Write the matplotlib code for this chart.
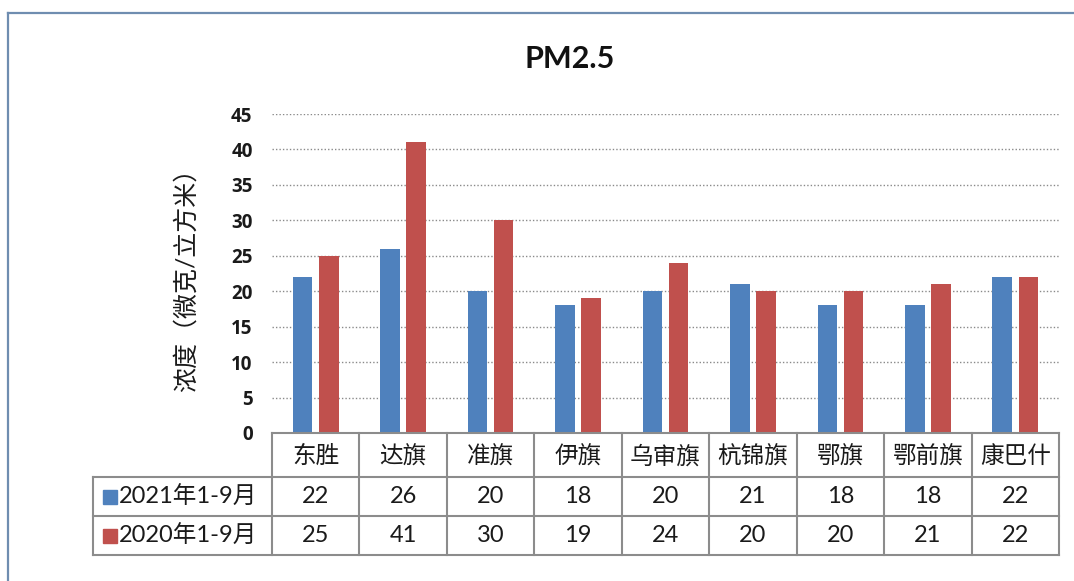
import matplotlib
matplotlib.use("Agg")
import matplotlib.pyplot as plt
from matplotlib.lines import Line2D

plt.rcParams['font.family'] = ['Lato', 'Noto Sans CJK SC', 'DejaVu Sans']

# data
cities = ['东胜', '达旗', '准旗', '伊旗', '乌审旗', '杭锦旗', '鄂旗', '鄂前旗', '康巴什']
series_names = ['2021年1-9月', '2020年1-9月']
pm_2021 = [22, 26, 20, 18, 20, 21, 18, 18, 22]
pm_2020 = [25, 41, 30, 19, 24, 20, 20, 21, 22]
yticks = list(range(0, 46, 5))
colors = ['#4F81BD', '#C0504D']

W, H = 1074, 581
fig = plt.figure(figsize=(W / 100, H / 100), dpi=100)
fig.patch.set_facecolor('white')

def fx(px):
    return px / W

def fy(py):
    return 1 - py / H

# frame of the chart area (only top and left visible in the crop)
fig.add_artist(Line2D([fx(8), 1.0], [fy(13), fy(13)], color='#6f8db0', lw=1.6))
fig.add_artist(Line2D([fx(8), fx(8)], [fy(13), 0.0], color='#6f8db0', lw=1.6))

# main plot
left, right, top, base = 272, 1059, 114, 433
ax = fig.add_axes([fx(left), fy(base), fx(right) - fx(left), (base - top) / H])
n = len(cities)
xs = range(n)
bw = 0.223
off = 0.149
ax.bar([x - off for x in xs], pm_2021, width=bw, color=colors[0], zorder=3)
ax.bar([x + off for x in xs], pm_2020, width=bw, color=colors[1], zorder=3)
ax.set_xlim(-0.5, n - 0.5)
ax.set_ylim(0, 45)
ax.set_yticks(yticks)
ax.set_yticklabels([str(v) for v in yticks], fontweight='bold', fontsize=13.5,
                   family='Open Sans', color='#1a1a1a')
ax.set_xticks([])
ax.tick_params(axis='y', length=0, pad=14)
for y in yticks[1:]:
    ax.axhline(y, color='#8a8a8a', lw=1.0, ls=(0, (1, 1.5)), zorder=1)
for s in ax.spines.values():
    s.set_visible(False)

ax.set_ylabel('浓度（微克/立方米）', fontsize=18, labelpad=24, color='#1a1a1a')

fig.text(fx(570), fy(59), 'PM2.5', fontsize=22, fontweight='bold',
         ha='center', va='center', color='#111111')

# data table below the plot
cat_w = (right - left) / n
tl = -0.5 - (left - 93) / cat_w
bottom_px = 555
tax = fig.add_axes([fx(93), fy(bottom_px), fx(right) - fx(93), (bottom_px - base) / H])
tax.set_xlim(tl, n - 0.5)
rows = [0, 44, 83, 122]
tax.set_ylim(rows[-1], 0)
tax.axis('off')
lc = '#8c8c8c'
lw = 1.5
tax.plot([-0.5, n - 0.5], [0, 0], color=lc, lw=lw, clip_on=False)
for r in rows[1:]:
    tax.plot([tl, n - 0.5], [r, r], color=lc, lw=lw, clip_on=False)
for k in range(n + 1):
    tax.plot([k - 0.5, k - 0.5], [0, rows[-1]], color=lc, lw=lw, clip_on=False)
tax.plot([tl, tl], [rows[1], rows[-1]], color=lc, lw=lw, clip_on=False)

for i, c in enumerate(cities):
    tax.text(i, (rows[0] + rows[1]) / 2 + 1, c, ha='center', va='center',
             fontsize=17, color='#1a1a1a')
for j, vals in enumerate([pm_2021, pm_2020]):
    yc = (rows[j + 1] + rows[j + 2]) / 2
    tax.plot([tl + 17 / cat_w], [yc], marker='s', ms=9.5, color=colors[j],
             clip_on=False, ls='none')
    tax.text(tl + 26 / cat_w, yc, series_names[j], ha='left', va='center',
             fontsize=17, color='#1a1a1a')
    for i, v in enumerate(vals):
        tax.text(i, yc, str(v), ha='center', va='center', fontsize=17, color='#1a1a1a')

fig.savefig('out.png', dpi=100)
